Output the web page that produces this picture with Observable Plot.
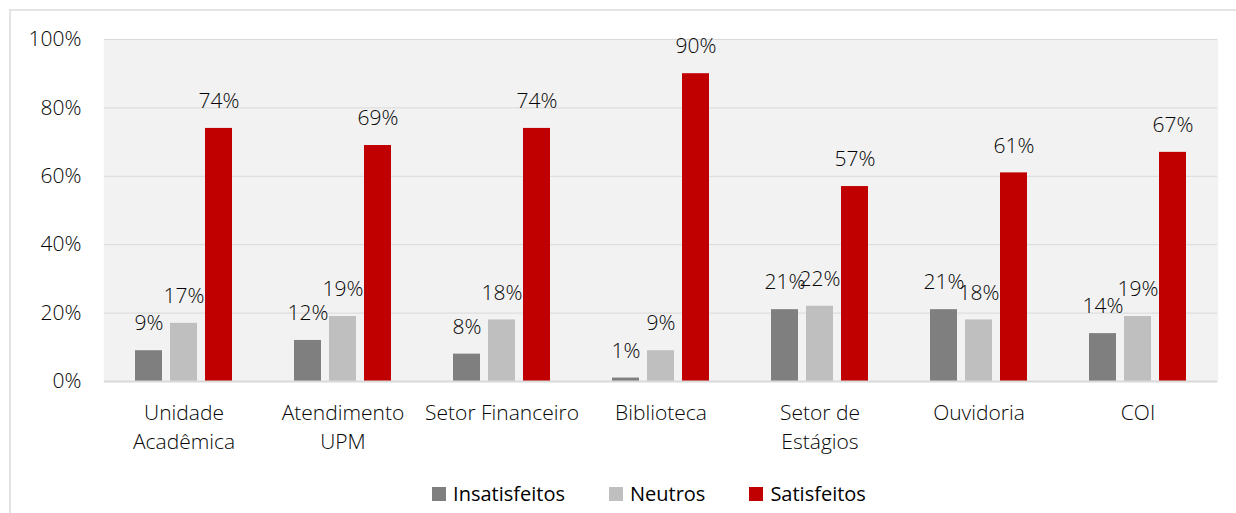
<!DOCTYPE html>
<html>
<head>
<meta charset="utf-8">
<script src="https://cdn.jsdelivr.net/npm/d3@7"></script>
<script src="https://cdn.jsdelivr.net/npm/@observablehq/plot@0.6"></script>
<style>
  html, body { margin: 0; padding: 0; background: #fff; }
  #wrap { position: relative; width: 1236px; height: 513px; overflow: hidden; font-family: "Open Sans", Lato, sans-serif; }
  #frame { position: absolute; left: 9px; top: 9px; width: 1300px; height: 600px; border-top: 2px solid #e4e4e4; border-left: 2px solid #e4e4e4; pointer-events: none; }
  #chart { position: absolute; left: 0; top: 0; }
  #legend { position: absolute; left: 62px; width: 1174px; top: 480px; display: flex; justify-content: center; gap: 44px; font-size: 20px; font-weight: 500; color: #000; }
  #legend .item { display: flex; align-items: center; }
  #legend .sw { width: 14px; height: 14px; margin-right: 7px; }
</style>
</head>
<body>
<div id="wrap">
  <div id="chart"></div>
  <div id="frame"></div>
  <div id="legend"></div>
</div>
<script>
const categories = ["Unidade\nAcadêmica", "Atendimento\nUPM", "Setor Financeiro", "Biblioteca", "Setor de\nEstágios", "Ouvidoria", "COI"];
const series = ["Insatisfeitos", "Neutros", "Satisfeitos"];
const insatisfeitos = [9, 12, 8, 1, 21, 21, 14];
const neutros = [17, 19, 18, 9, 22, 18, 19];
const satisfeitos = [74, 69, 74, 90, 57, 61, 67];
const colors = ["#7f7f7f", "#bfbfbf", "#c00000"];
const yTicks = [0, 20, 40, 60, 80, 100];

const seriesValues = [insatisfeitos, neutros, satisfeitos];
const data = [];
categories.forEach((c, i) => {
  series.forEach((s, j) => data.push({cat: c, serie: s, value: seriesValues[j][i]}));
});

const font = "'Open Sans', Lato, sans-serif";
const textFill = "#050505";
const chart = Plot.plot({
  width: 1236,
  height: 460,
  marginLeft: 101,
  marginRight: 16,
  marginTop: 39,
  marginBottom: 79,
  style: {fontFamily: font, fontSize: "21px", fontWeight: 300, color: textFill, background: "transparent"},
  fx: {domain: categories, padding: 0, label: null},
  x: {domain: series, paddingInner: 0.22, paddingOuter: 0.83, axis: null},
  y: {domain: [0, 100], label: null},
  color: {domain: series, range: colors},
  marks: [
    Plot.frame({fill: "#f2f2f2", stroke: "#f2f2f2", strokeWidth: 1.5}),
    Plot.gridY(yTicks, {stroke: "#d9d9d9", strokeOpacity: 1, strokeWidth: 1}),
    Plot.axisY(yTicks, {tickSize: 0, tickPadding: 23, tickFormat: d => d + "%", fontSize: 21, fill: textFill, label: null}),
    Plot.axisFx({anchor: "bottom", tickSize: 0, tickPadding: 18, lineHeight: 1.38, fontSize: 21, fill: textFill, label: null}),
    Plot.barY(data, {fx: "cat", x: "serie", y: "value", fill: "serie"}),
    Plot.ruleY([0], {stroke: "#d9d9d9", strokeWidth: 2}),
    Plot.text(data, {fx: "cat", x: "serie", y: "value", text: d => d.value + "%", dy: -27, fontSize: 21, fill: textFill})
  ]
});
document.getElementById("chart").appendChild(chart);

const legend = document.getElementById("legend");
series.forEach((s, i) => {
  const item = document.createElement("div");
  item.className = "item";
  const sw = document.createElement("span");
  sw.className = "sw";
  sw.style.background = colors[i];
  const t = document.createElement("span");
  t.textContent = s;
  item.appendChild(sw);
  item.appendChild(t);
  legend.appendChild(item);
});
</script>
</body>
</html>
